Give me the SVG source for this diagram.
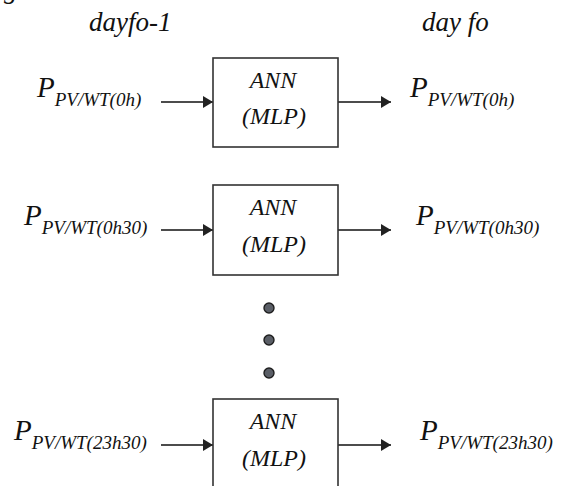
<svg xmlns="http://www.w3.org/2000/svg" width="566" height="486" viewBox="0 0 566 486">
<defs>
<style>
text{font-family:"Liberation Serif","Times New Roman",serif;font-style:italic;fill:#111}
.hdr{font-size:27px}
.big{font-size:29px}
.sub{font-size:19px}
.lab{font-size:24px}
.box{fill:#fff;stroke:#333;stroke-width:1.6}
.arr{fill:none;stroke:#111;stroke-width:1.5;marker-end:url(#ah)}
.dot{fill:#5a5e66;stroke:#1e1e1e;stroke-width:1.4}
</style>
<marker id="ah" viewBox="0 0 10 12" refX="10" refY="6" markerWidth="10" markerHeight="12" markerUnits="userSpaceOnUse" orient="auto">
<path d="M0,0 L10,6 L0,12 Z" fill="#222"/>
</marker>
</defs>
<rect width="566" height="486" fill="#fff"/>
<text class="hdr" x="4" y="-2">g</text>
<text class="hdr" x="89" y="31">dayfo-1</text>
<text class="hdr" x="422" y="31">day fo</text>

<g id="connectors">
<line class="arr" x1="161" y1="102" x2="213" y2="102"/>
<line class="arr" x1="338" y1="102" x2="391" y2="102"/>
<line class="arr" x1="161" y1="230" x2="213" y2="230"/>
<line class="arr" x1="338" y1="230" x2="391" y2="230"/>
<line class="arr" x1="161" y1="445" x2="213" y2="445"/>
<line class="arr" x1="338" y1="445" x2="391" y2="445"/>
</g>

<g id="in1"><text x="37" y="97"><tspan class="big">P</tspan><tspan class="sub" dy="9">PV/WT(0h)</tspan></text></g>
<g id="ann1">
<rect class="box" x="213" y="58" width="125" height="89"/>
<text class="lab" x="273" y="88" text-anchor="middle">ANN</text>
<text class="lab" x="274" y="124" text-anchor="middle">(MLP)</text>
</g>
<g id="out1"><text x="410" y="97"><tspan class="big">P</tspan><tspan class="sub" dy="9">PV/WT(0h)</tspan></text></g>

<g id="in2"><text x="24" y="225"><tspan class="big">P</tspan><tspan class="sub" dy="9">PV/WT(0h30)</tspan></text></g>
<g id="ann2">
<rect class="box" x="213" y="185" width="125" height="90"/>
<text class="lab" x="273" y="215" text-anchor="middle">ANN</text>
<text class="lab" x="274" y="252" text-anchor="middle">(MLP)</text>
</g>
<g id="out2"><text x="416" y="225"><tspan class="big">P</tspan><tspan class="sub" dy="9">PV/WT(0h30)</tspan></text></g>

<g id="dots">
<circle class="dot" cx="269" cy="308" r="5"/>
<circle class="dot" cx="269" cy="340" r="5"/>
<circle class="dot" cx="269" cy="373" r="5"/>
</g>

<g id="in3"><text x="14" y="440"><tspan class="big">P</tspan><tspan class="sub" dy="9">PV/WT(23h30)</tspan></text></g>
<g id="ann3">
<rect class="box" x="213" y="399" width="125" height="90"/>
<text class="lab" x="273" y="429" text-anchor="middle">ANN</text>
<text class="lab" x="274" y="466" text-anchor="middle">(MLP)</text>
</g>
<g id="out3"><text x="420" y="440"><tspan class="big">P</tspan><tspan class="sub" dy="9">PV/WT(23h30)</tspan></text></g>
</svg>
